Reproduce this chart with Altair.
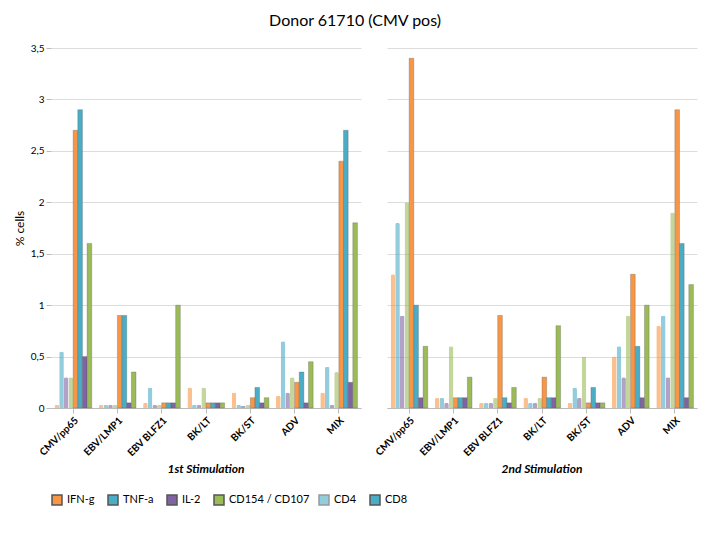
import altair as alt
import pandas as pd

# ---------------- data (approximate) ----------------
antigens = ["CMV/pp65", "EBV/LMP1", "EBV BLFZ1", "BK/LT", "BK/ST", "ADV", "MIX"]
stimulations = ["1st Stimulation", "2nd Stimulation"]
cd4_markers = ["IFN-g", "TNF-a", "IL-2", "CD154"]
cd8_markers = ["IFN-g", "TNF-a", "IL-2", "CD107"]

# 1st stimulation, CD4 (cylinders)
s1_cd4_ifng = [0.03, 0.03, 0.05, 0.20, 0.15, 0.12, 0.15]
s1_cd4_tnfa = [0.55, 0.03, 0.20, 0.03, 0.03, 0.65, 0.40]
s1_cd4_il2 = [0.30, 0.03, 0.03, 0.03, 0.02, 0.15, 0.03]
s1_cd4_cd154 = [0.30, 0.03, 0.03, 0.20, 0.03, 0.30, 0.35]
# 1st stimulation, CD8 (boxes)
s1_cd8_ifng = [2.70, 0.90, 0.05, 0.05, 0.10, 0.25, 2.40]
s1_cd8_tnfa = [2.90, 0.90, 0.05, 0.05, 0.20, 0.35, 2.70]
s1_cd8_il2 = [0.50, 0.05, 0.05, 0.05, 0.05, 0.05, 0.25]
s1_cd8_cd107 = [1.60, 0.35, 1.00, 0.05, 0.10, 0.45, 1.80]
# 2nd stimulation, CD4 (cylinders)
s2_cd4_ifng = [1.30, 0.10, 0.05, 0.10, 0.05, 0.50, 0.80]
s2_cd4_tnfa = [1.80, 0.10, 0.05, 0.05, 0.20, 0.60, 0.90]
s2_cd4_il2 = [0.90, 0.05, 0.05, 0.05, 0.10, 0.30, 0.30]
s2_cd4_cd154 = [2.00, 0.60, 0.10, 0.10, 0.50, 0.90, 1.90]
# 2nd stimulation, CD8 (boxes)
s2_cd8_ifng = [3.40, 0.10, 0.90, 0.30, 0.05, 1.30, 2.90]
s2_cd8_tnfa = [1.00, 0.10, 0.10, 0.10, 0.20, 0.60, 1.60]
s2_cd8_il2 = [0.10, 0.10, 0.05, 0.10, 0.05, 0.10, 0.10]
s2_cd8_cd107 = [0.60, 0.30, 0.20, 0.80, 0.05, 1.00, 1.20]

series = {
    ("1st Stimulation", "CD4"): [s1_cd4_ifng, s1_cd4_tnfa, s1_cd4_il2, s1_cd4_cd154],
    ("1st Stimulation", "CD8"): [s1_cd8_ifng, s1_cd8_tnfa, s1_cd8_il2, s1_cd8_cd107],
    ("2nd Stimulation", "CD4"): [s2_cd4_ifng, s2_cd4_tnfa, s2_cd4_il2, s2_cd4_cd154],
    ("2nd Stimulation", "CD8"): [s2_cd8_ifng, s2_cd8_tnfa, s2_cd8_il2, s2_cd8_cd107],
}

cyto_groups = ["IFN-g", "TNF-a", "IL-2", "CD154 / CD107"]
cyto_colors = ["#F79646", "#4BACC6", "#8064A2", "#9BBB59"]

rows = []
for (stim, cell), lists in series.items():
    names = cd4_markers if cell == "CD4" else cd8_markers
    for i, (name, vals) in enumerate(zip(names, lists)):
        for a, v in zip(antigens, vals):
            rows.append({
                "stim": stim, "cell": cell, "marker": name,
                "cytokine": cyto_groups[i], "key": f"{cell} {name}",
                "antigen": a, "value": v,
            })
df = pd.DataFrame(rows)

keys = [f"CD4 {m}" for m in cd4_markers] + [f"CD8 {m}" for m in cd8_markers]

FONT = "Lato"
TICKS = [0, 0.5, 1, 1.5, 2, 2.5, 3, 3.5]


def panel(stim, show_y):
    base = alt.Chart(df).transform_filter(alt.datum.stim == stim)
    if show_y:
        yaxis = alt.Axis(
            title="% cells", values=TICKS,
            labelExpr="replace(format(datum.value, '~g'), '.', ',')",
            gridColor="#dddddd", domain=False, tickColor="#bbbbbb",
            titleFontWeight="normal", titleFontSize=12, labelFontSize=10,
        )
    else:
        yaxis = alt.Axis(
            title=None, values=TICKS,
            labels=False, ticks=False, domain=False, gridColor="#dddddd",
        )
    enc = dict(
        x=alt.X("antigen:N", sort=antigens, title=None,
                scale=alt.Scale(paddingInner=0.16, paddingOuter=0.08),
                axis=alt.Axis(labelAngle=-45, labelFontWeight="bold",
                              labelFontSize=10, domainColor="#bbbbbb",
                              tickColor="#bbbbbb")),
        xOffset=alt.XOffset("key:N", sort=keys, scale=alt.Scale(domain=keys)),
        y=alt.Y("value:Q", scale=alt.Scale(domain=[0, 3.5]), axis=yaxis),
        color=alt.Color("cytokine:N",
                        scale=alt.Scale(domain=cyto_groups, range=cyto_colors),
                        legend=alt.Legend(title=None, orient="bottom",
                                          labelFontSize=11, symbolType="square")),
        opacity=alt.Opacity("cell:N",
                            scale=alt.Scale(domain=["CD4", "CD8"], range=[0.6, 1.0]),
                            legend=alt.Legend(title=None, orient="bottom",
                                              labelFontSize=11, symbolType="square",
                                              symbolFillColor="#4BACC6")),
        tooltip=["antigen:N", "key:N", "value:Q"],
    )
    cd4 = base.transform_filter(alt.datum.cell == "CD4").mark_bar(
        cornerRadiusTopLeft=2, cornerRadiusTopRight=2).encode(**enc)
    cd8 = base.transform_filter(alt.datum.cell == "CD8").mark_bar(
        stroke="#555555", strokeWidth=0.3).encode(**enc)
    return alt.layer(cd4, cd8).properties(
        width=310, height=360,
        title=alt.TitleParams(stim, orient="bottom", fontStyle="italic",
                              fontWeight="bold", fontSize=12, offset=6),
    )


chart = alt.hconcat(
    panel("1st Stimulation", True),
    panel("2nd Stimulation", False),
    spacing=12,
).resolve_scale(y="shared", color="shared", opacity="shared", xOffset="independent").properties(
    title=alt.TitleParams("Donor 61710 (CMV pos)", fontSize=16, fontWeight="normal",
                          anchor="middle", offset=14),
).configure(font=FONT).configure_view(stroke=None)

chart.save("out.html", embed_options={"renderer": "svg", "actions": False})
